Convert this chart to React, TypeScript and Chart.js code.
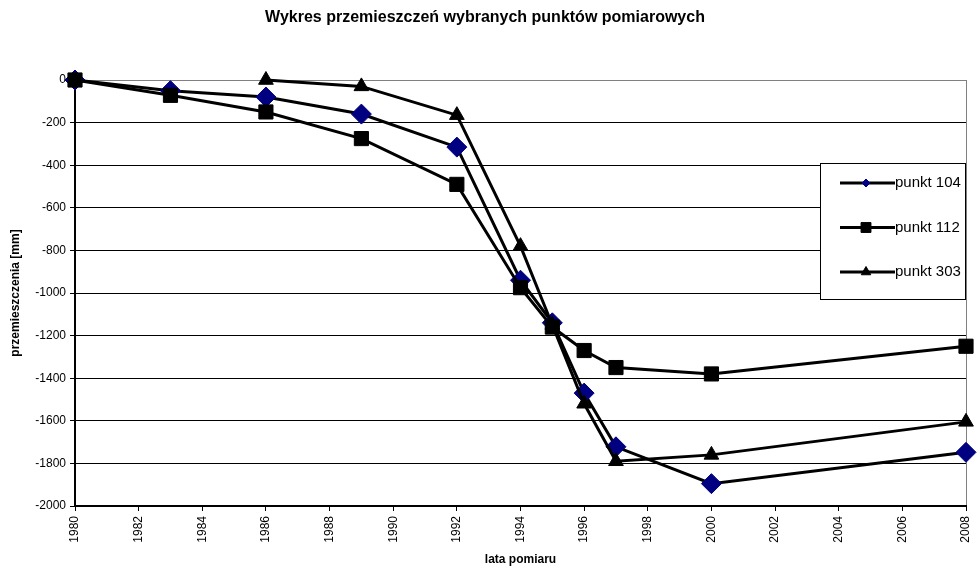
import React, { useEffect, useRef } from 'react';
import { Chart, registerables } from 'chart.js';
import { drawPoint } from 'chart.js/helpers';

Chart.register(...registerables);

// ---- data ----
const years = [1980, 1983, 1986, 1989, 1992, 1994, 1995, 1996, 1997, 2000, 2008];
const punkt104 = [0, -50, -80, -160, -315, -940, -1140, -1470, -1722, -1895, -1748];
const punkt112 = [0, -72, -150, -275, -490, -975, -1160, -1270, -1350, -1380, -1250];
const punkt303 = [null, null, 0, -30, -165, -780, -1150, -1520, -1790, -1760, -1605];
const seriesLabels = ['punkt 104', 'punkt 112', 'punkt 303'];
const titleText = 'Wykres przemieszczeń wybranych punktów pomiarowych';
const xTitle = 'lata pomiaru';
const yTitle = 'przemieszczenia [mm]';
const xMin = 1980;
const xMax = 2008;
const xStep = 2;
const yMin = -2000;
const yMax = 0;
const yStep = 200;

const FONT = '"Liberation Sans", Arial, Helvetica, sans-serif';

const toPoints = (vals: (number | null)[]) =>
  years.map((yr, i) => ({ x: yr, y: vals[i] }));

const legendRadius = [4, 7, 5.5];

const boxLegend = {
  id: 'boxLegend',
  afterDraw(chart: any) {
    const { ctx, chartArea } = chart;
    const w = 146;
    const h = 137;
    const x0 = chartArea.right - w;
    const y0 = 163;
    ctx.save();
    ctx.fillStyle = '#ffffff';
    ctx.fillRect(x0, y0, w, h);
    ctx.strokeStyle = '#000000';
    ctx.lineWidth = 1;
    ctx.strokeRect(x0 + 0.5, y0 + 0.5, w - 1, h - 1);
    chart.data.datasets.forEach((ds: any, i: number) => {
      const y = y0 + 20 + i * 44.5;
      ctx.strokeStyle = ds.borderColor;
      ctx.lineWidth = ds.borderWidth;
      ctx.beginPath();
      ctx.moveTo(x0 + 20, y);
      ctx.lineTo(x0 + 75, y);
      ctx.stroke();
      ctx.fillStyle = ds.pointBackgroundColor;
      ctx.strokeStyle = ds.pointBorderColor;
      ctx.lineWidth = 1;
      drawPoint(ctx, { pointStyle: ds.pointStyle, radius: legendRadius[i], borderWidth: 1, rotation: 0 } as any, x0 + 46, y);
      ctx.fillStyle = '#000000';
      ctx.font = `15px ${FONT}`;
      ctx.textBaseline = 'middle';
      ctx.textAlign = 'left';
      ctx.fillText(ds.label, x0 + 75, y);
    });
    ctx.restore();
  },
};

export default function App() {
  const ref = useRef<HTMLCanvasElement | null>(null);

  useEffect(() => {
    if (!ref.current) return;
    Chart.defaults.font.family = FONT;
    Chart.defaults.color = '#000000';
    const chart = new Chart(ref.current, {
      type: 'line',
      data: {
        datasets: [
          {
            label: seriesLabels[0],
            data: toPoints(punkt104),
            borderColor: '#000000',
            borderWidth: 3,
            pointStyle: 'rectRot',
            pointRadius: 10,
            pointBorderWidth: 1,
            pointBackgroundColor: '#000080',
            pointBorderColor: '#000080',
            tension: 0,
            order: 3,
            clip: false,
          },
          {
            label: seriesLabels[1],
            data: toPoints(punkt112),
            borderColor: '#000000',
            borderWidth: 3,
            pointStyle: 'rect',
            pointRadius: 10,
            pointBorderWidth: 1,
            pointBackgroundColor: '#000000',
            pointBorderColor: '#000000',
            tension: 0,
            order: 2,
            clip: false,
          },
          {
            label: seriesLabels[2],
            data: toPoints(punkt303),
            borderColor: '#000000',
            borderWidth: 3,
            pointStyle: 'triangle',
            pointRadius: 8.5,
            pointBorderWidth: 1,
            pointBackgroundColor: '#000000',
            pointBorderColor: '#000000',
            tension: 0,
            order: 1,
            clip: false,
          },
        ],
      },
      options: {
        animation: false,
        responsive: false,
        devicePixelRatio: 1,
        layout: { padding: { left: 0, right: 7, top: 0, bottom: 0 } },
        plugins: {
          legend: { display: false },
          tooltip: { enabled: false },
          title: {
            display: true,
            text: titleText,
            color: '#000000',
            font: { size: 16, weight: 'bold', family: FONT },
            padding: { top: 8, bottom: 52.8 },
          },
        },
        scales: {
          x: {
            type: 'linear',
            min: xMin,
            max: xMax,
            ticks: {
              stepSize: xStep,
              minRotation: 90,
              maxRotation: 90,
              autoSkip: false,
              padding: 5,
              color: '#000000',
              font: { size: 12, family: FONT },
              callback: (v: any) => String(v),
            },
            grid: {
              color: (c: any) => (c.tick && c.tick.value === xMax ? '#808080' : 'rgba(0,0,0,0)'),
              tickColor: '#000000',
              tickLength: 5,
              lineWidth: 1,
            },
            border: { color: '#000000', width: 2 },
            title: {
              display: true,
              text: xTitle,
              color: '#000000',
              font: { size: 12, weight: 'bold', family: FONT },
              padding: { top: 0, bottom: 1 },
            },
            afterFit: (s: any) => {
              s.height = 62;
              s.paddingLeft = 0;
              s.paddingRight = 0;
            },
          },
          y: {
            type: 'linear',
            min: yMin,
            max: yMax,
            ticks: {
              stepSize: yStep,
              padding: 4,
              color: '#000000',
              font: { size: 12, family: FONT },
              callback: (v: any) => String(v),
            },
            grid: {
              color: (c: any) => (c.tick && c.tick.value === yMax ? '#808080' : '#000000'),
              tickColor: '#000000',
              tickLength: 5,
              lineWidth: 1,
            },
            border: { color: '#000000', width: 2 },
            title: {
              display: true,
              text: yTitle,
              color: '#000000',
              font: { size: 12, weight: 'bold', family: FONT },
              padding: { top: 8, bottom: 0 },
            },
            afterFit: (s: any) => {
              s.width = 75;
              s.paddingTop = 0;
              s.paddingBottom = 0;
            },
          },
        },
      },
      plugins: [boxLegend],
    } as any);
    return () => chart.destroy();
  }, []);

  return (
    <div style={{ position: 'absolute', left: 0, top: 0, width: 977, height: 568, background: '#ffffff' }}>
      <canvas ref={ref} width={977} height={568} style={{ width: 977, height: 568, display: 'block' }} />
    </div>
  );
}
